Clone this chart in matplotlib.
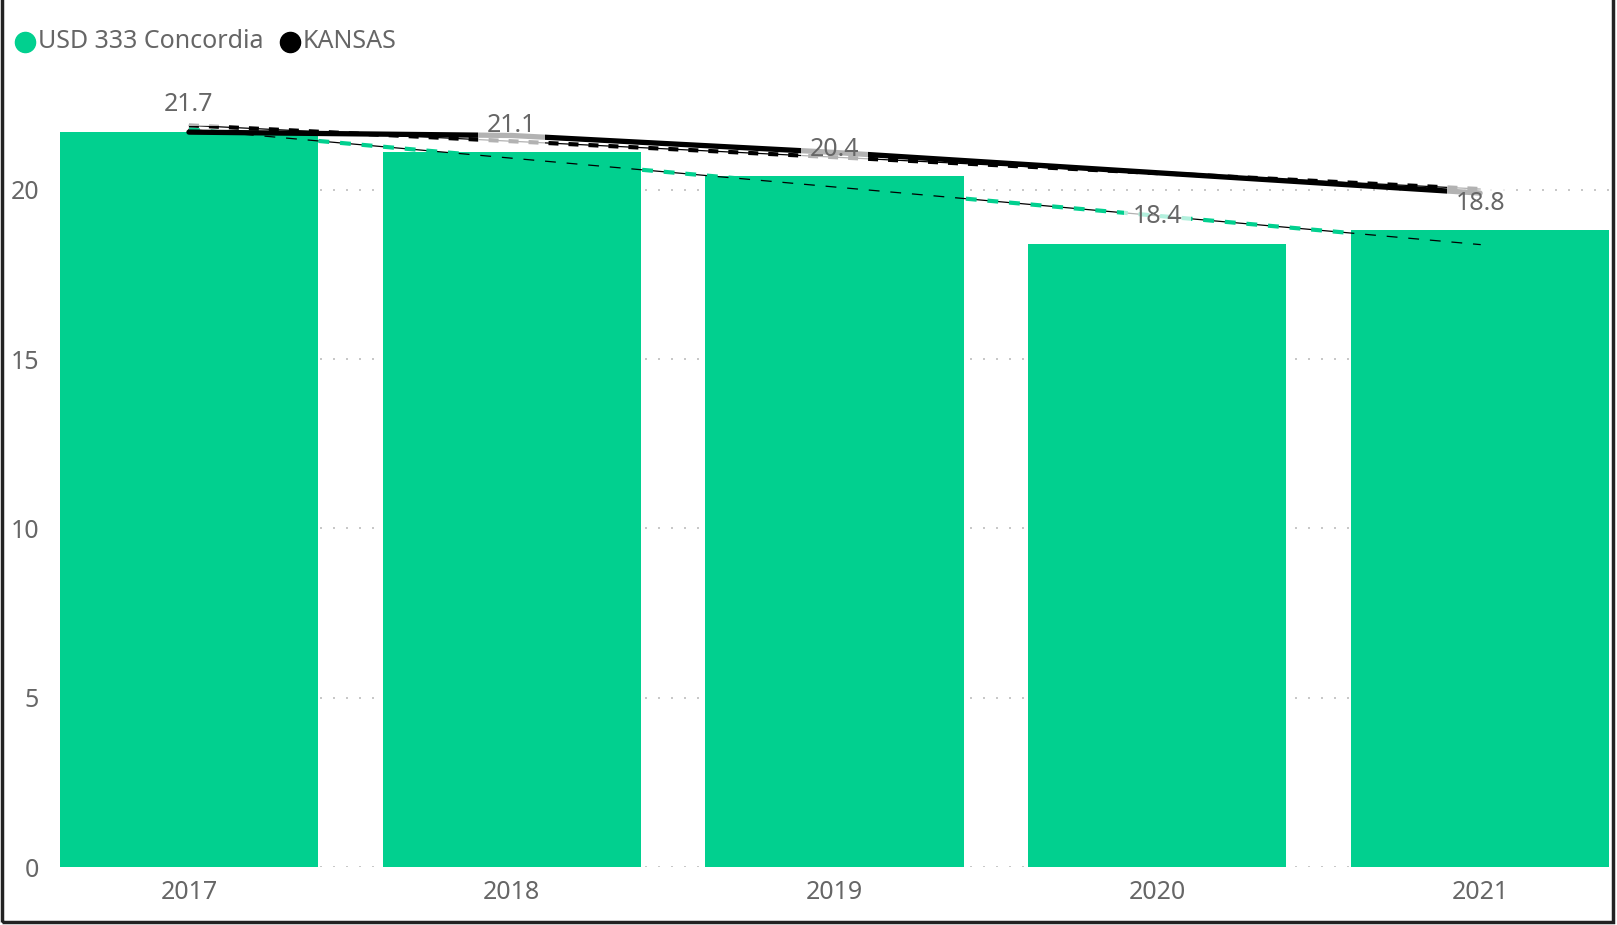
import matplotlib.pyplot as plt
import matplotlib.patches as patches
from matplotlib.lines import Line2D
import numpy as np

# data
years = ['2017', '2018', '2019', '2020', '2021']
concordia = [21.7, 21.1, 20.4, 18.4, 18.8]
kansas = [21.7, 21.6, 21.1, 20.5, 19.9]
yticks = [0, 5, 10, 15, 20]
series = ['USD 333 Concordia', 'KANSAS']

green = '#01D08F'
grey = '#666666'

plt.rcParams['font.family'] = ['Noto Sans', 'DejaVu Sans']

W, H = 1617, 925
fig = plt.figure(figsize=(W / 100, H / 100), dpi=100)
ax = fig.add_axes([0.037, 0.0624, 0.9582, 0.8424])

x = np.arange(len(years))

ax.bar(x, concordia, width=0.8, color=green, zorder=2)

# trend lines (least squares, like the power bi trend line)
k1 = np.polyfit(x, concordia, 1)
k2 = np.polyfit(x, kansas, 1)
ax.plot(x, np.polyval(k1, x), color='black', lw=0.9, zorder=3)
ax.plot(x, np.polyval(k1, x), color=green, lw=3, dashes=(2.6, 2.6), zorder=3)
ax.plot(x, np.polyval(k2, x), color='black', lw=0.9, zorder=3)
ax.plot(x, np.polyval(k2, x), color='black', lw=3, dashes=(2.4, 2.4), zorder=3)

# kansas line
ax.plot(x, kansas, color='black', lw=3.8, solid_capstyle='round', zorder=4)

# data labels above the bars
for i, v in enumerate(concordia):
    ax.text(i, v + 0.8, '%.1f' % v, ha='center', va='center', fontsize=18,
            color=grey, zorder=5,
            bbox=dict(boxstyle='square,pad=0.35', fc='white', ec='none', alpha=0.7))

ax.set_xlim(-0.4, 4.4)
ax.set_ylim(0, 23)
ax.set_xticks(x)
ax.set_xticklabels(years)
ax.set_yticks(yticks)
ax.tick_params(length=0, labelsize=18, labelcolor=grey)
ax.tick_params(axis='y', pad=15)
ax.tick_params(axis='x', pad=9)
for s in ax.spines.values():
    s.set_visible(False)
ax.set_axisbelow(True)
ax.yaxis.grid(True, color='#c8c8c8', lw=1.44, dashes=(1, 5.5))

# legend drawn by hand, power bi style
renderer = fig.canvas.get_renderer()
px = 25
for name, col in zip(series, [green, 'black']):
    fig.add_artist(Line2D([px / W], [1 - 42 / H], marker='o', ms=14.5, color=col,
                          transform=fig.transFigure))
    t = fig.text((px + 13) / W, 1 - 42 / H, name, fontsize=18, color=grey,
                 va='center', ha='left')
    bb = t.get_window_extent(renderer)
    px = bb.x1 + 26

fig.patches.append(patches.Rectangle((0.0015, 0.003), 0.996, 1.1, transform=fig.transFigure,
                                     fill=False, ec='#222222', lw=2.5))

fig.savefig('out.png', dpi=100)
